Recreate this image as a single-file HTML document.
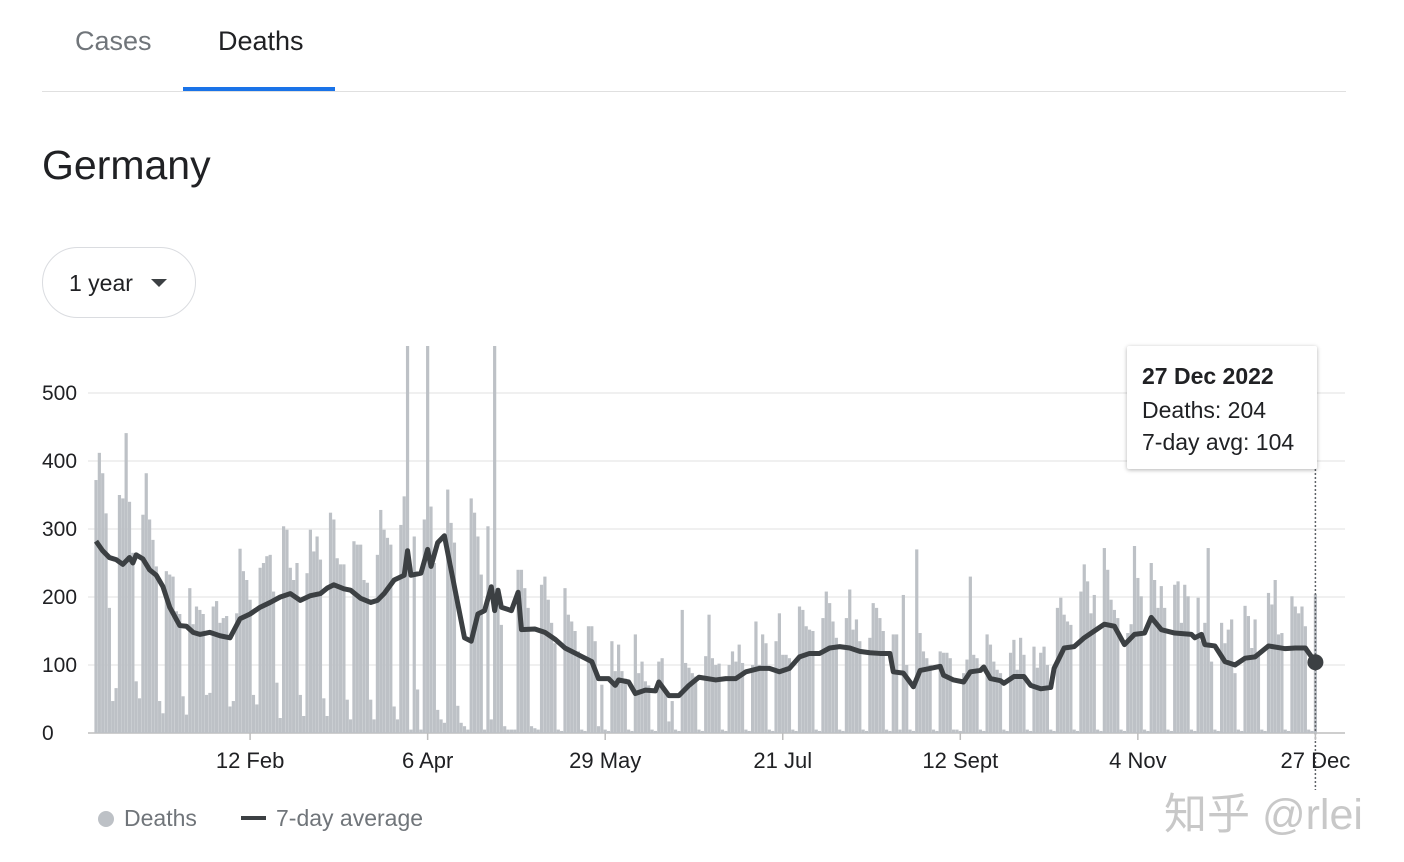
<!DOCTYPE html>
<html><head><meta charset="utf-8"><style>
body{margin:0;width:1404px;height:862px;background:#fff;font-family:"Liberation Sans",Arial,sans-serif;overflow:hidden;position:relative}
.abs{position:absolute}
</style></head><body>
<div class="abs" style="left:75px;top:26px;font-size:27px;color:#70757a">Cases</div>
<div class="abs" style="left:218px;top:26px;font-size:27px;color:#202124">Deaths</div>
<div class="abs" style="left:42px;top:91px;width:1304px;height:1px;background:#e0e0e0"></div>
<div class="abs" style="left:183px;top:87px;width:152px;height:4px;background:#1a73e8"></div>
<div class="abs" style="left:42px;top:142px;font-size:41px;color:#202124">Germany</div>
<div class="abs" style="left:42px;top:247px;width:154px;height:71px;border:1px solid #dadce0;border-radius:36px;box-sizing:border-box">
<span style="position:absolute;left:26px;top:22px;font-size:23px;color:#202124">1 year</span>
<span style="position:absolute;left:108px;top:31px;width:0;height:0;border-left:8px solid transparent;border-right:8px solid transparent;border-top:8px solid #3c4043"></span>
</div>
<svg class="abs" style="left:0;top:0" width="1404" height="862">
<g id="grid"></g><g id="bars"></g><g id="line"></g><g id="xaxis"></g>
</svg>
<div class="abs" style="left:1127px;top:346px;width:190px;height:123px;background:#fff;box-shadow:0 1px 4px rgba(0,0,0,0.3);border-radius:2px;font-size:23px;color:#202124">
<div style="position:absolute;left:15px;top:17px;font-weight:bold">27 Dec 2022</div>
<div style="position:absolute;left:15px;top:51px">Deaths: 204</div>
<div style="position:absolute;left:15px;top:83px">7-day avg: 104</div>
</div>
<div class="abs" style="left:98px;top:805px;font-size:23px;color:#70757a"><span style="display:inline-block;width:16px;height:16px;border-radius:50%;background:#bdc1c6;vertical-align:-1px;margin-right:10px"></span>Deaths</div>
<div class="abs" style="left:241px;top:805px;font-size:23px;color:#70757a"><span style="display:inline-block;width:25px;height:4px;background:#3c4043;vertical-align:6px;margin-right:10px"></span>7-day average</div>
<div class="abs" style="left:1164px;top:780px;font-size:43px;color:#c8c8c8;font-family:'Liberation Sans','Noto Sans CJK SC',sans-serif">知乎 @rlei</div>
<script>
const deaths=[
372,412,382,323,184,47,66, 350,345,441,340,265,76,51, 321,382,314,284,245,47,29,
238,233,230,179,175,54,27, 213,160,186,181,175,56,59, 186,194,162,169,172,39,47,
176,271,238,225,196,56,42, 243,250,260,262,208,74,22, 304,299,243,225,250,56,25,
235,299,267,289,255,51,25, 324,314,257,248,248,49,20, 282,277,277,225,221,49,20,
262,328,299,287,277,39,20, 306,348,600,5,289,64,5, 314,600,333,250,34,20,15,
358,309,280,40,15,10,5, 345,324,289,233,5,304,20, 600,213,159,10,5,5,5,
240,240,213,184,10,7,5, 218,230,196,162,132,5,3, 213,174,164,150,120,5,3,
157,157,135,10,71,5,3, 135,91,130,91,80,5,3, 145,88,105,76,70,5,3,
105,110,60,17,47,5,3, 181,103,96,88,83,5,3, 113,174,110,100,102,5,3,
100,120,105,130,103,5,3, 100,164,100,145,132,5,3, 135,176,115,115,110,5,3,
186,181,157,152,150,5,3, 169,208,191,164,140,5,3, 169,211,152,167,135,5,3,
140,191,184,169,150,5,3, 145,145,5,203,100,5,3, 270,147,120,110,100,5,3,
120,118,118,110,5,5,3, 88,108,230,115,110,5,3, 145,130,105,93,88,5,3,
118,137,93,140,115,5,3, 127,96,118,127,100,5,3, 184,199,174,164,159,5,3,
208,248,223,176,203,5,3, 272,240,196,181,169,5,3, 147,160,275,228,201,5,3,
250,225,184,216,184,5,3, 218,223,162,218,201,5,3, 199,135,162,272,105,5,3,
162,132,152,167,88,5,3, 187,172,125,167,118,5,3, 206,189,225,145,147,5,3,
201,186,176,186,157,5,3, 204];
const avgDay=[0,2,4,6,8,10,11,12,14,16,18,20,22,25,27,29,31,34,37,40,43,46,49,52,55,58,61,64,67,69,71,74,76,79,82,84,86,89,92,93,94,97,99,100,102,104,106,108,110,112,114,116,118,119,120,121,124,126,127,131,134,137,140,144,148,150,153,155,156,159,161,164,167,168,171,174,177,180,185,188,191,194,198,201,204,207,210,213,216,219,222,225,228,231,234,237,238,241,244,246,249,252,253,256,259,261,264,265,267,270,271,274,277,279,282,285,286,289,292,295,298,301,304,307,310,313,315,318,322,327,328,330,331,334,337,340,343,346,350,355,358,361,364];
const avgVal=[282,268,258,255,248,258,250,262,256,240,232,215,185,158,157,148,145,148,143,140,168,175,185,192,200,205,195,202,205,213,218,212,210,198,192,195,205,225,232,268,232,235,270,245,280,290,240,190,140,135,175,180,215,180,210,185,180,207,152,153,148,138,125,115,105,80,80,70,78,75,58,63,62,75,55,55,70,82,78,80,80,90,95,95,90,95,112,117,117,125,127,125,120,118,117,117,90,88,68,92,95,98,85,78,75,90,92,97,80,77,73,83,83,70,65,67,95,125,127,140,150,160,157,130,145,147,170,152,147,145,140,145,130,128,105,100,110,112,128,124,125,125,104];
const yTicks=[0,100,200,300,400,500];
const xTickDays=[46,99,152,205,258,311,364];
const xTickLabels=["12 Feb","6 Apr","29 May","21 Jul","12 Sept","4 Nov","27 Dec"];
const X0=96,DX=3.35,Y0=733,KY=0.68,TOP=346;
const xs=i=>X0+i*DX, ys=v=>Y0-v*KY;
const NS="http://www.w3.org/2000/svg";
function mk(t,a,p){const e=document.createElementNS(NS,t);for(const k in a)e.setAttribute(k,a[k]);p.appendChild(e);return e;}
const grid=document.getElementById('grid');
yTicks.forEach(v=>{
 const l=mk('line',{x1:88,x2:1345,y1:ys(v),y2:ys(v),stroke:v?'#ebebeb':'#bdbdbd','stroke-width':1.5},grid);
 
 
 const t=mk('text',{x:42,y:ys(v)+7,'font-size':21,fill:'#202124'},grid);t.textContent=v;
 
 
});
const bars=document.getElementById('bars');
deaths.forEach((v,i)=>{
 const top=Math.max(ys(v),TOP);
 const r=mk('rect',{x:xs(i)-1.6,y:top,width:3.2,height:Y0-top,fill:'#bdc1c6'},bars);
 
 
});
const lg=document.getElementById('line');
const pts=avgDay.map((d,k)=>xs(d)+','+ys(avgVal[k])).join(' ');
const pl=mk('polyline',{points:pts,fill:'none',stroke:'#3c4043','stroke-width':5,'stroke-linejoin':'round'},lg);


const last=avgDay.length-1;
const hl=mk('line',{x1:xs(avgDay[last]),x2:xs(avgDay[last]),y1:469,y2:790,stroke:'#5f6368','stroke-width':1.5,'stroke-dasharray':'2,2'},lg);


const dot=mk('circle',{cx:xs(avgDay[last]),cy:ys(avgVal[last]),r:8,fill:'#3c4043'},lg);


const xa=document.getElementById('xaxis');
xTickDays.forEach((d,k)=>{
 const tk=mk('line',{x1:xs(d),x2:xs(d),y1:733,y2:740,stroke:'#bdbdbd','stroke-width':1.5},xa);
 
 
 const t=mk('text',{x:xs(d),y:768,'font-size':22,fill:'#202124','text-anchor':'middle'},xa);t.textContent=xTickLabels[k];
 
 
});
</script>
</body></html>
